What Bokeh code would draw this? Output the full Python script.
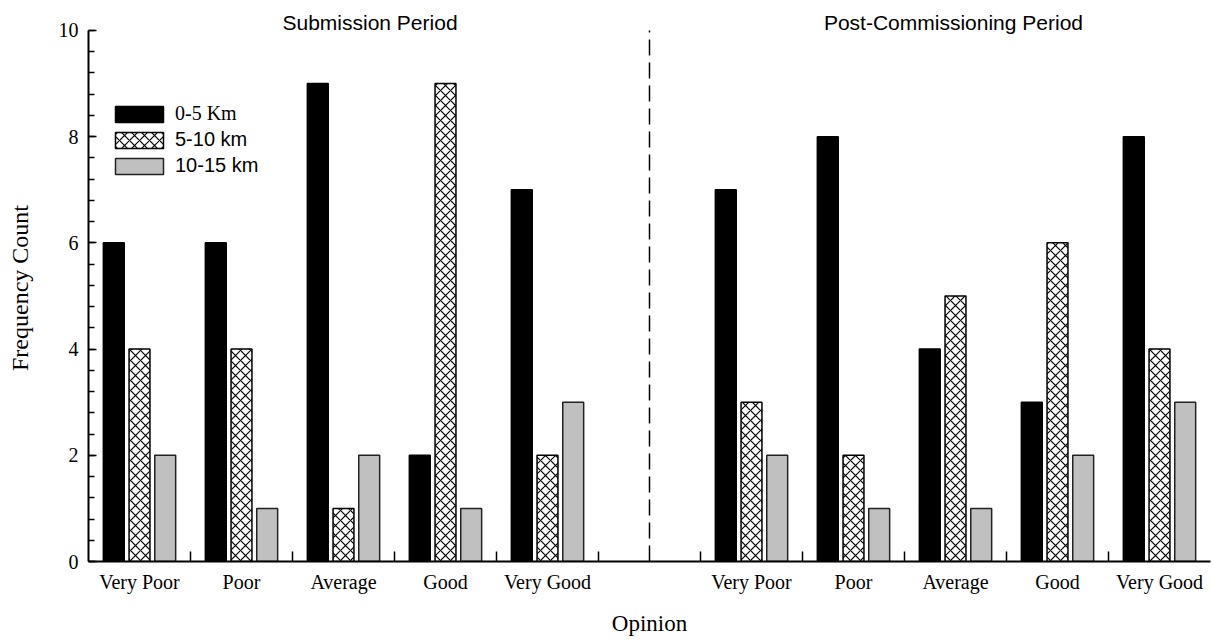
from bokeh.plotting import figure
from bokeh.models import (Range1d, FixedTicker, Label, Legend, LegendItem)
from bokeh.embed import file_html
from bokeh.resources import INLINE

# ---- data ----
opinions = ["Very Poor", "Poor", "Average", "Good", "Very Good"]
periods = ["Submission Period", "Post-Commissioning Period"]
series = ["0-5 Km", "5-10 km", "10-15 km"]
sub_0_5 = [6, 6, 9, 2, 7]
sub_5_10 = [4, 4, 1, 9, 2]
sub_10_15 = [2, 1, 2, 1, 3]
post_0_5 = [7, 8, 4, 3, 8]
post_5_10 = [3, 2, 5, 6, 4]
post_10_15 = [2, 1, 1, 2, 3]
y_ticks = [0, 2, 4, 6, 8, 10]

# ---- layout helpers (slots: 5 groups, 1 empty gap slot, 5 groups) ----
n = len(opinions)
centers = [i + 0.5 for i in range(n)] + [n + 1 + i + 0.5 for i in range(n)]
gap_center = n + 0.5
n_slots = 2 * n + 1
offsets = [-0.252, 0.0, 0.252]
bar_w = 0.205

vals = [sub_0_5 + post_0_5, sub_5_10 + post_5_10, sub_10_15 + post_10_15]

SERIF = "Liberation Serif"
SANS = "Liberation Sans"
y_top = y_ticks[-1]

p = figure(width=1213, height=642, output_backend="svg", toolbar_location=None,
           x_range=Range1d(0, n_slots), y_range=Range1d(0, y_top + 0.3),
           min_border_left=88, min_border_right=3, min_border_top=14,
           min_border_bottom=81)
p.outline_line_color = None
p.xgrid.visible = False
p.ygrid.visible = False
p.background_fill_color = "white"
p.border_fill_color = "white"

styles = [
    dict(fill_color="black", line_color="black"),
    dict(fill_color="white", line_color="black", hatch_pattern="x",
         hatch_color="black", hatch_scale=10, hatch_weight=1.2),
    dict(fill_color="#c0c0c0", line_color="#222222"),
]
renderers = []
for k in range(3):
    xs = [c + offsets[k] for c in centers]
    r = p.vbar(x=xs, top=vals[k], width=bar_w, bottom=0, line_width=1.5,
               **styles[k])
    renderers.append(r)

# dashed separator between the two periods
p.segment(x0=[gap_center], y0=[0], x1=[gap_center], y1=[y_top],
          line_color="black", line_width=1.5, line_dash="16 7")

# x axis: labels at centers, tick marks at slot boundaries
xa = p.xaxis[0]
xa.ticker = FixedTicker(ticks=centers,
                        minor_ticks=[b for b in range(1, n_slots)])
xa.major_label_overrides = {c: opinions[i % n] for i, c in enumerate(centers)}
xa.major_tick_in = 0
xa.major_tick_out = 0
xa.minor_tick_in = 10
xa.minor_tick_out = 0
xa.minor_tick_line_width = 1.5
xa.axis_line_width = 2
xa.axis_line_color = "black"
xa.minor_tick_line_color = "black"
xa.major_label_text_font = SERIF
xa.major_label_text_font_size = "20px"
xa.major_label_text_color = "black"
xa.major_label_standoff = 9
xa.axis_label = "Opinion"
xa.axis_label_text_font = SERIF
xa.axis_label_text_font_size = "23px"
xa.axis_label_text_font_style = "normal"
xa.axis_label_text_color = "black"
xa.axis_label_standoff = 15

ya = p.yaxis[0]
ya.bounds = (0, y_top)
ya.ticker = FixedTicker(ticks=y_ticks,
                        minor_ticks=[round(0.4 * i, 1) for i in range(26)])
ya.major_tick_in = 8
ya.major_tick_out = 0
ya.minor_tick_in = 6
ya.minor_tick_out = 0
ya.major_tick_line_width = 1.5
ya.minor_tick_line_width = 1.5
ya.axis_line_width = 2
ya.major_label_text_font = SERIF
ya.major_label_text_font_size = "20px"
ya.major_label_text_color = "black"
ya.major_label_standoff = 10
ya.axis_label = "Frequency Count"
ya.axis_label_text_font = SERIF
ya.axis_label_text_font_size = "24px"
ya.axis_label_text_font_style = "normal"
ya.axis_label_text_color = "black"
ya.axis_label_standoff = 23

# period titles
for txt, xc in zip(periods, [2.76, 8.48]):
    p.add_layout(Label(x=xc, y=y_top, y_offset=8, text=txt,
                       text_align="center", text_baseline="alphabetic",
                       text_font=SANS, text_font_size="21px",
                       text_color="black"))

# legends (one per item so each label keeps its own font)
fonts = [SERIF, SANS, SANS]
bottoms = [436, 410, 384]
for k in range(3):
    lg = Legend(items=[LegendItem(label=series[k], renderers=[renderers[k]])],
                location=(21, bottoms[k]), glyph_width=60, glyph_height=20,
                label_height=20, label_standoff=6, padding=0, margin=0,
                spacing=0, label_text_font=fonts[k],
                label_text_font_size="20px", label_text_color="black",
                border_line_alpha=0, background_fill_alpha=0)
    p.add_layout(lg)

open("out.html", "w").write(file_html(p, INLINE))
